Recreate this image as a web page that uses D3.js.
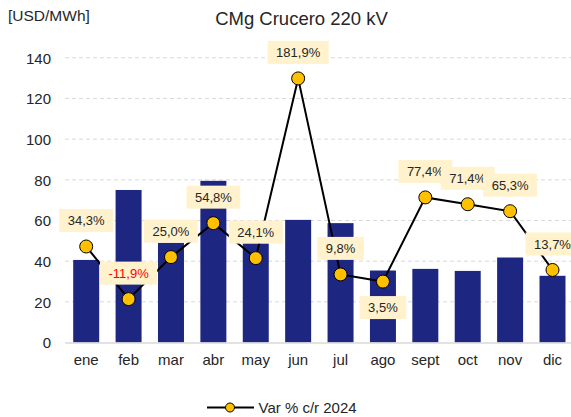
<!DOCTYPE html>
<html>
<head>
<meta charset="utf-8">
<script src="https://d3js.org/d3.v7.min.js"></script>
<style>
  body { margin: 0; background: #fff; }
  text { font-family: "Liberation Sans", Arial, sans-serif; fill: #262626; }
</style>
</head>
<body>
<div id="chart"></div>
<script>
// Data
var months = ["ene", "feb", "mar", "abr", "may", "jun", "jul", "ago", "sept", "oct", "nov", "dic"];
var cmgValues = [40.6, 75.0, 49.0, 79.5, 48.8, 60.3, 58.7, 35.4, 36.2, 35.2, 41.8, 32.8];
var varPct = [34.3, -11.9, 25.0, 54.8, 24.1, 181.9, 9.8, 3.5, 77.4, 71.4, 65.3, 13.7];
var yTicks = [0, 20, 40, 60, 80, 100, 120, 140];

var svgWidth = 571;
var svgHeight = 417;

var margin = { top: 57.8, right: -2.7, bottom: 74.5, left: 65 };
var width = svgWidth - margin.left - margin.right;
var height = svgHeight - margin.top - margin.bottom;

var svg = d3.select("#chart")
  .append("svg")
  .attr("width", svgWidth)
  .attr("height", svgHeight);

var chartGroup = svg.append("g")
  .attr("transform", `translate(${margin.left}, ${margin.top})`);

// Scales
var xScale = d3.scaleBand()
  .domain(months)
  .range([0, width])
  .paddingInner(0.387)
  .paddingOuter(0.1935);

var yScale = d3.scaleLinear()
  .domain([0, 140])
  .range([height, 0]);

// hidden secondary axis for the % line
var y2Scale = d3.scaleLinear()
  .domain([-50, 200])
  .range([height, 0]);

// Gridlines
chartGroup.selectAll(".grid")
  .data(yTicks.filter(d => d > 0))
  .enter()
  .append("line")
  .attr("x1", 0)
  .attr("x2", svgWidth - margin.left)
  .attr("y1", d => yScale(d))
  .attr("y2", d => yScale(d))
  .attr("stroke", "#d9d9d9")
  .attr("stroke-width", 1)
  .attr("stroke-dasharray", "4,3");

// Left axis (labels only)
var leftAxis = d3.axisLeft(yScale).tickValues(yTicks).tickSize(0).tickPadding(14);
var yAxisG = chartGroup.append("g").call(leftAxis);
yAxisG.select(".domain").remove();
yAxisG.selectAll("text")
  .attr("font-size", "15px")
  .attr("font-family", "Liberation Sans, Arial, sans-serif")
  .attr("fill", "#262626")
  .attr("dy", "0.36em");

// Bars
chartGroup.selectAll(".bar")
  .data(cmgValues)
  .enter()
  .append("rect")
  .attr("class", "bar")
  .attr("x", (d, i) => xScale(months[i]))
  .attr("y", d => yScale(d))
  .attr("width", xScale.bandwidth())
  .attr("height", d => height - yScale(d))
  .attr("fill", "#1d2680");

// Zero line
chartGroup.append("line")
  .attr("x1", 0)
  .attr("x2", svgWidth - margin.left)
  .attr("y1", height + 0.5)
  .attr("y2", height + 0.5)
  .attr("stroke", "#d9d9d9")
  .attr("stroke-width", 1.5);

// Bottom axis (labels only)
var bottomAxis = d3.axisBottom(xScale).tickSize(0).tickPadding(12);
var xAxisG = chartGroup.append("g")
  .attr("transform", `translate(0, ${height})`)
  .call(bottomAxis);
xAxisG.select(".domain").remove();
xAxisG.selectAll("text")
  .attr("font-size", "15px")
  .attr("font-family", "Liberation Sans, Arial, sans-serif")
  .attr("fill", "#262626");

// Line of % variation
var xCenter = i => xScale(months[i]) + xScale.bandwidth() / 2;
var line = d3.line()
  .x((d, i) => xCenter(i))
  .y(d => y2Scale(d));

chartGroup.append("path")
  .datum(varPct)
  .attr("d", line)
  .attr("fill", "none")
  .attr("stroke", "#000")
  .attr("stroke-width", 2);

chartGroup.selectAll(".dot")
  .data(varPct)
  .enter()
  .append("circle")
  .attr("cx", (d, i) => xCenter(i))
  .attr("cy", d => y2Scale(d))
  .attr("r", 6.5)
  .attr("fill", "#ffc000")
  .attr("stroke", "#000")
  .attr("stroke-width", 1);

// Data labels, drawn in order so later boxes cover earlier ones
varPct.forEach(function(d, i) {
  var label = d.toFixed(1).replace(".", ",") + "%";
  var cy = y2Scale(d) + (months[i] === "ago" ? 26 : -26);
  var g = chartGroup.append("g");
  var t = g.append("text")
    .attr("x", xCenter(i))
    .attr("y", cy)
    .attr("dy", "0.36em")
    .attr("text-anchor", "middle")
    .attr("font-size", "13px")
    .attr("font-family", "Liberation Sans, Arial, sans-serif")
    .style("fill", d < 0 ? "#ff0000" : "#262626")
    .text(label);
  var w = t.node().getComputedTextLength() + 17;
  g.insert("rect", "text")
    .attr("x", xCenter(i) - w / 2)
    .attr("y", cy - 11.5)
    .attr("width", w)
    .attr("height", 23)
    .attr("fill", "#fff2cc");
});

// Title and unit
svg.append("text")
  .attr("x", 301.5)
  .attr("y", 25)
  .attr("text-anchor", "middle")
  .attr("font-size", "18.5px")
  .text("CMg Crucero 220 kV");

svg.append("text")
  .attr("x", 8)
  .attr("y", 21)
  .attr("font-size", "15.5px")
  .text("[USD/MWh]");

// Legend
var legend = svg.append("g");
legend.append("line")
  .attr("x1", 207)
  .attr("x2", 254)
  .attr("y1", 407.5)
  .attr("y2", 407.5)
  .attr("stroke", "#000")
  .attr("stroke-width", 2);
legend.append("circle")
  .attr("cx", 230)
  .attr("cy", 407.5)
  .attr("r", 4.5)
  .attr("fill", "#ffc000")
  .attr("stroke", "#000")
  .attr("stroke-width", 1);
legend.append("text")
  .attr("x", 258.5)
  .attr("y", 412.5)
  .attr("font-size", "15px")
  .text("Var % c/r 2024");
</script>
</body>
</html>
